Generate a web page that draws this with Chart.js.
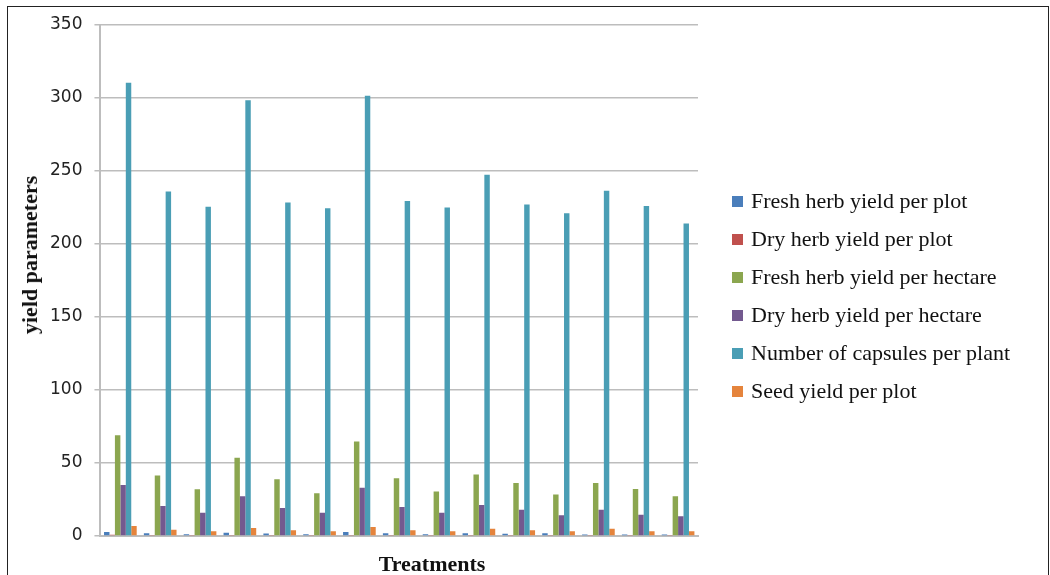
<!DOCTYPE html>
<html>
<head>
<meta charset="utf-8">
<script src="https://cdn.jsdelivr.net/npm/chart.js@4.4.0/dist/chart.umd.min.js"></script>
<style>
    html, body { margin: 0; padding: 0; background: #fff; overflow: hidden; }
    #frame { position: absolute; left: 7px; top: 6px; width: 1040px; height: 600px; border: 1.5px solid #222; }
    #wrap { position: absolute; left: 0; top: 0; width: 1050px; height: 575px; }
    .serif { font-family: "Liberation Serif", "Times New Roman", serif; color: #111; }
    #legend { position: absolute; left: 732px; top: 182px; font-size: 22px; }
    #legend .item { display: flex; align-items: center; height: 38px; white-space: nowrap; }
    #legend .box { width: 11px; height: 11px; margin-right: 8px; flex: none; }
    .axis-title { position: absolute; font-size: 22px; font-weight: bold; white-space: nowrap; line-height: 1; }
    #ytitle { left: 30px; top: 255px; transform: translate(-50%, -50%) rotate(-90deg); }
    #xtitle { left: 432px; top: 564px; transform: translate(-50%, -50%); }
</style>
</head>
<body>
<div id="frame"></div>
<div id="wrap"><canvas id="chart" width="1050" height="575"></canvas></div>
<div id="legend" class="serif"></div>
<div id="ytitle" class="axis-title serif">yield parameters</div>
<div id="xtitle" class="axis-title serif">Treatments</div>
<script>
    // --- Data ---
    const treatments = ['T1', 'T2', 'T3', 'T4', 'T5', 'T6', 'T7', 'T8', 'T9', 'T10', 'T11', 'T12', 'T13', 'T14', 'T15'];
    const freshHerbPlot = [2.8, 1.8, 1.2, 2.2, 1.7, 1.2, 2.8, 1.8, 1.2, 1.8, 1.5, 1.8, 1.1, 1.1, 1.1];
    const dryHerbPlot = [0.8, 0.6, 0.3, 0.6, 0.3, 0.3, 0.7, 0.4, 0.3, 0.7, 0.3, 0.4, 0.4, 0.3, 0.3];
    const freshHerbHectare = [69, 41.5, 32, 53.6, 38.8, 29.2, 64.8, 39.5, 30.4, 42.2, 36.3, 28.5, 36.3, 32.2, 27.2];
    const dryHerbHectare = [34.9, 20.5, 16, 27.2, 19.2, 16, 33, 19.9, 16, 21.2, 18, 14.2, 18, 14.6, 13.5];
    const capsulesPerPlant = [310.5, 236, 225.5, 298.5, 228.5, 224.5, 301.5, 229.5, 225, 247.5, 227, 221, 236.5, 226, 214];
    const seedYieldPlot = [6.8, 4.3, 3.2, 5.5, 3.9, 3.2, 6.2, 3.9, 3.2, 5, 3.9, 3.2, 5, 3.2, 3.2];
    const yTicks = [0, 50, 100, 150, 200, 250, 300, 350];

    const seriesNames = [
        'Fresh herb yield per plot',
        'Dry herb yield per plot',
        'Fresh herb yield per hectare',
        'Dry herb yield per hectare',
        'Number of capsules per plant',
        'Seed yield per plot'
    ];
    const seriesColors = ['#4A7EBB', '#C0504D', '#8BA64F', '#73598F', '#4A9EB5', '#E5843C'];
    const seriesData = [freshHerbPlot, dryHerbPlot, freshHerbHectare, dryHerbHectare, capsulesPerPlant, seedYieldPlot];

    // --- Legend (HTML, right side) ---
    const legendDiv = document.getElementById('legend');
    legendDiv.innerHTML = seriesNames.map((name, i) => `
        <div class="item"><span class="box" style="background:${seriesColors[i]}"></span>${name}</div>
    `).join('');

    const ctx = document.getElementById('chart').getContext('2d');
    new Chart(ctx, {
        type: 'bar',
        data: {
            labels: treatments,
            datasets: seriesData.map((d, i) => ({
                label: seriesNames[i],
                data: d,
                backgroundColor: seriesColors[i],
                borderWidth: 0,
                categoryPercentage: 0.82,
                barPercentage: 1
            }))
        },
        options: {
            responsive: false,
            animation: false,
            layout: { padding: { left: 38, top: 25, right: 352, bottom: 31 } },
            plugins: {
                legend: { display: false },
                tooltip: { enabled: false }
            },
            scales: {
                x: {
                    grid: { display: false },
                    border: { color: '#bdbdbd', width: 2 },
                    ticks: { display: false }
                },
                y: {
                    min: 0,
                    max: 350,
                    afterBuildTicks: (axis) => { axis.ticks = yTicks.map(v => ({ value: v })); },
                    grid: { color: '#bdbdbd', lineWidth: 1.5, tickLength: 6 },
                    border: { color: '#bdbdbd', width: 2 },
                    ticks: {
                        font: { family: '"DejaVu Sans", Verdana, sans-serif', size: 17 },
                        color: '#222',
                        padding: 12
                    }
                }
            }
        }
    });
</script>
</body>
</html>
